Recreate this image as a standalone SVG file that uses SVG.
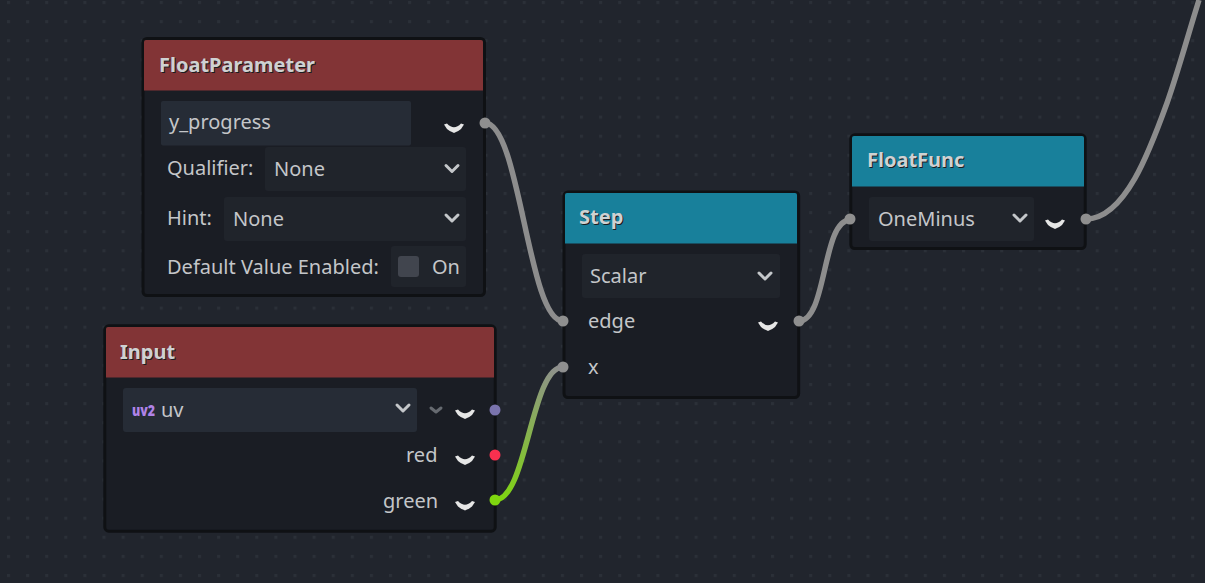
<svg xmlns="http://www.w3.org/2000/svg" width="1205" height="583" viewBox="0 0 1205 583">
<style>
text{font-family:"Noto Sans","Open Sans",sans-serif;font-size:20px;fill:#c4c6c9}
.title{font-weight:700;font-size:20px;fill:#cfd1d2}
.shadow{font-weight:700;font-size:20px;fill:#1a1c21}
.frame{fill:#1a1d24;stroke:#0f1114;stroke-width:3}
.red{fill:#823436}.teal{fill:#18809b}
.drop{fill:#20242b}.field{fill:#262c36}
.chev{fill:none;stroke:#c4c7ca;stroke-width:3;stroke-linecap:round;stroke-linejoin:round}
.slot{fill:#e6e6e6}
.wire{fill:none;stroke:#8d8d8d;stroke-width:5.500;stroke-linecap:butt}
.port{fill:#8f8f8f}
</style>
<defs>
<!-- background dot grid -->
<pattern id="dots" x="7" y="1" width="19.1" height="19.1" patternUnits="userSpaceOnUse">
<rect x="0" y="0" width="3" height="3" fill="#2b3038"/>
</pattern>
<linearGradient id="greenWire" gradientUnits="userSpaceOnUse" x1="495" y1="500" x2="563" y2="367">
<stop offset="0" stop-color="#7fd60f"/><stop offset="1" stop-color="#8f8f8f"/>
</linearGradient>
<path id="slotIcon" class="slot" d="M-10-3.500 L-7-4.500 Q0 3 7-4.500 L10-3.500 L7 1 Q4 3.500 2 4 L0 5 L-2 4 Q-4 3.500 -7 1 Z"/>
<path id="chevron" class="chev" d="M-6-3 L0 3 L6-3"/>
</defs>
<rect width="1205" height="583" fill="#21252d"/>
<rect width="1205" height="583" fill="url(#dots)"/>
<g id="connectors">
<path class="wire" d="M485 123 C520 123 528 321 563 321"/>
<path class="wire" style="stroke:url(#greenWire)" d="M495 500 C527 500 531 367 563 367"/>
<path class="wire" d="M799 321 C827 321 822 220 850 220"/>
<path class="wire" d="M1086 219 C1125 219 1150 150 1167 103 C1178 72 1188 35 1199 0"/>
</g>
<g id="node-floatparameter">
<rect class="frame" x="143" y="38.500" width="341.500" height="257" rx="4"/>
<path class="red" d="M144 42 Q144 40 146 40 H481 Q483 40 483 42 V90.500 H144 Z"/>
<text class="shadow" x="160" y="72.500">FloatParameter</text>
<text class="title" x="159" y="71.500">FloatParameter</text>
<rect class="field" x="161" y="101" width="250" height="44.500" rx="2"/>
<text x="169" y="129">y_progress</text>
<use href="#slotIcon" x="454" y="128"/>
<text x="167" y="174.500">Qualifier:</text>
<rect class="drop" x="265" y="147" width="201" height="44" rx="3"/>
<text x="274" y="175.500">None</text>
<use href="#chevron" x="452" y="168.500"/>
<text x="167" y="224.500">Hint:</text>
<rect class="drop" x="224" y="197" width="242" height="44" rx="3"/>
<text x="233" y="225.500">None</text>
<use href="#chevron" x="452" y="218"/>
<text x="167" y="273.500">Default Value Enabled:</text>
<rect class="drop" x="391" y="246" width="75" height="41" rx="3"/>
<rect x="398" y="256" width="21" height="21" rx="3" fill="#41454e"/>
<text x="432" y="273.500">On</text>
<circle class="port" cx="485" cy="123" r="5.500"/>
</g>
<g id="node-input">
<rect class="frame" x="104.800" y="325.800" width="390.400" height="205.400" rx="4"/>
<path class="red" d="M106 329 Q106 327 108 327 H492 Q494 327 494 329 V377.500 H106 Z"/>
<text class="shadow" x="121" y="359.500">Input</text>
<text class="title" x="120" y="358.500">Input</text>
<rect class="field" x="123" y="388" width="294" height="44" rx="3"/>
<text x="132" y="416" textLength="23" lengthAdjust="spacingAndGlyphs" style="font-size:15px;font-weight:900;fill:#b083e8">uv2</text>
<text x="161" y="417">uv</text>
<use href="#chevron" x="403" y="408"/>
<path class="chev" d="M431 408 L436 412 L441 408" style="stroke:#666a70"/>
<use href="#slotIcon" x="465" y="414"/>
<text x="406" y="461.500">red</text>
<use href="#slotIcon" x="465" y="460"/>
<text x="383" y="507.500">green</text>
<use href="#slotIcon" x="465" y="505.500"/>
<circle cx="495" cy="410" r="5.500" fill="#7a74ad"/>
<circle cx="495" cy="455" r="5.500" fill="#f8304f"/>
<circle cx="495" cy="500" r="5.500" fill="#7fd60f"/>
</g>
<g id="node-step">
<rect class="frame" x="564" y="192" width="234.700" height="205.500" rx="4"/>
<path class="teal" d="M565 195 Q565 193 567 193 H795 Q797 193 797 195 V243.500 H565 Z"/>
<text class="shadow" x="580" y="225">Step</text>
<text class="title" x="579" y="224">Step</text>
<rect class="drop" x="582" y="254" width="198" height="44" rx="3"/>
<text x="590" y="283">Scalar</text>
<use href="#chevron" x="765" y="276"/>
<text x="588" y="327.500">edge</text>
<use href="#slotIcon" x="768" y="326"/>
<text x="588" y="373.500">x</text>
<circle class="port" cx="563" cy="321" r="5.500"/>
<circle class="port" cx="563" cy="367" r="5.500"/>
<circle class="port" cx="799" cy="321" r="5.500"/>
</g>
<g id="node-floatfunc">
<rect class="frame" x="850.800" y="134.800" width="234.400" height="113.700" rx="4"/>
<path class="teal" d="M852 138 Q852 136 854 136 H1082 Q1084 136 1084 138 V186.500 H852 Z"/>
<text class="shadow" x="868" y="168">FloatFunc</text>
<text class="title" x="867" y="167">FloatFunc</text>
<rect class="drop" x="869" y="197" width="165" height="44" rx="3"/>
<text x="878" y="226">OneMinus</text>
<use href="#chevron" x="1020" y="218"/>
<use href="#slotIcon" x="1055" y="224"/>
<circle class="port" cx="850" cy="219" r="5.500"/>
<circle class="port" cx="1086" cy="219" r="5.500"/>
</g>
</svg>
